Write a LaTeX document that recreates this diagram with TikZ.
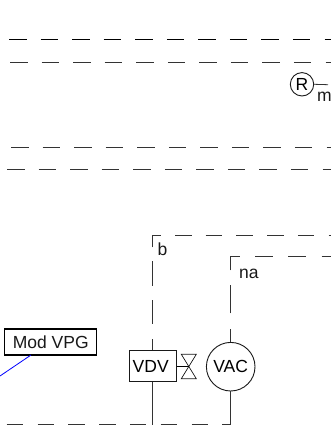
\documentclass[tikz,border=0pt]{standalone}
\usepackage{fontspec}
\setmainfont{Liberation Sans}
\tikzset{
  lbl/.style={inner sep=0pt,anchor=base west,font=\fontsize{17.5}{20}\selectfont,text=black!90},
  rule/.style={line width=1pt,draw=black!80},
  lanedash/.style={rule,dash pattern=on 17.5pt off 14.05pt},
  boxdash/.style={rule,dash pattern=on 16.5pt off 14.3pt},
  thinshape/.style={draw=black!90,line width=0.9pt,inner sep=0pt,font=\fontsize{17.5}{20}\selectfont}
}
\begin{document}
\begin{tikzpicture}[x=1pt,y=-1pt]
\useasboundingbox (0,0) rectangle (331,427);
\clip (0,0) rectangle (331,427);
% lanes
\coordinate (l1a) at (9,39.3);  \coordinate (l1b) at (331,39.3);
\coordinate (l2a) at (10,62.7); \coordinate (l2b) at (331,62.7);
\coordinate (l3a) at (11,148);  \coordinate (l3b) at (331,148);
\coordinate (l4a) at (7,170);   \coordinate (l4b) at (331,170);
\draw[lanedash,draw=black] (l1a) -- (l1b);
\draw[lanedash] (l2a) -- (l2b);
\draw[lanedash] (l3a) -- (l3b);
\draw[lanedash] (l4a) -- (l4b);
% R symbol
\node[thinshape,circle,minimum size=23.4pt] (rc) at (302,84.3) {R};
\coordinate (rend) at (328,84.7);
\draw[rule,line width=0.8pt] (rc.east) -- (rend);
\node[lbl] (mlabel) at (317,101.7) {m};
% devices
\node[thinshape,rectangle,minimum width=46.7pt,minimum height=30.6pt] (vdv) at (152.7,366) {\hspace*{-4pt}\raisebox{-1pt}{VDV}};
\node[thinshape,circle,minimum size=48.6pt] (vac) at (230.7,366.7) {VAC};
\node[draw=black,line width=1.5pt,rectangle,inner sep=0pt,minimum width=92pt,minimum height=26pt,font=\fontsize{17.5}{20}\selectfont,text=black!90] (mod) at (50.7,342) {Mod VPG};
\coordinate (blueend) at (0,376);
\draw[blue,line width=0.8pt] (31,355) -- (blueend);
% valve
\coordinate (vc) at (188.8,366.5);
\coordinate (v1) at (181.3,354.3); \coordinate (v2) at (196.3,354.3);
\coordinate (v3) at (181.3,378.7); \coordinate (v4) at (196.3,378.7);
\draw[draw=black!90,line width=0.7pt,line join=miter] (v1) -- (v2) -- (v3) -- (v4) -- cycle;
\draw[black,line width=1pt] (vdv.east |- vc) -- (vc);
% b region
\coordinate (bc) at (152.7,235.3);
\coordinate (bt) at (175,235.3);
\coordinate (btr) at (331,235.3);
\coordinate (bb) at (152.7,424.7);
\draw[rule,dash pattern=on 11.4pt off 15pt on 24pt off 14.3pt on 24.3pt off 14pt on 20.2pt off 400pt] (vdv.north) -- (bc) -- (bt);
\draw[rule,dash pattern=on 16.5pt off 14.2pt] (bt) -- (btr);
\draw[rule] (vdv.south) -- (bb);
\node[lbl] (blabel) at (157.5,255.7) {b};
% na region
\coordinate (nc) at (230.7,256.3);
\coordinate (nt) at (255,256.3);
\coordinate (ntr) at (331,256.3);
\coordinate (nb) at (230.7,424.7);
\draw[rule,dash pattern=on 13.3pt off 15.3pt on 28.7pt off 14.3pt on 23.7pt off 400pt] (vac.north) -- (nc) -- (nt);
\draw[rule,dash pattern=on 18pt off 15.3pt] (nt) -- (ntr);
\draw[rule] (vac.south) -- (nb);
\node[lbl] (nalabel) at (239,278) {na};
% bottom
\coordinate (ba) at (6.7,424.7);
\draw[boxdash] (ba) -- (nb);
\end{tikzpicture}
\end{document}
